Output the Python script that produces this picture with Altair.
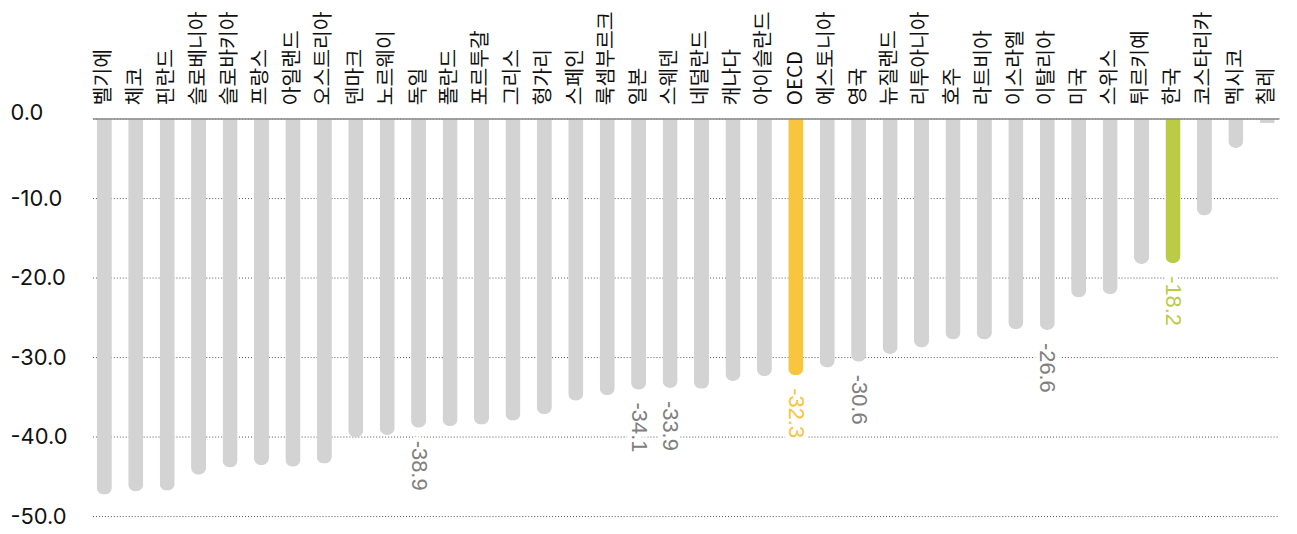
import altair as alt
import pandas as pd

countries = ["벨기에", "체코", "핀란드", "슬로베니아", "슬로바키아", "프랑스", "아일랜드", "오스트리아",
             "덴마크", "노르웨이", "독일", "폴란드", "포르투갈", "그리스", "헝가리", "스페인",
             "룩셈부르크", "일본", "스웨덴", "네덜란드", "캐나다", "아이슬란드", "OECD", "에스토니아",
             "영국", "뉴질랜드", "리투아니아", "호주", "라트비아", "이스라엘", "이탈리아", "미국",
             "스위스", "튀르키예", "한국", "코스타리카", "멕시코", "칠레"]
values = [-47.3, -46.9, -46.8, -44.8, -43.9, -43.6, -43.8, -43.4,
          -40.1, -39.8, -38.9, -38.7, -38.5, -38.0, -37.2, -35.5,
          -34.8, -34.1, -33.9, -34.0, -33.0, -32.4, -32.3, -31.3,
          -30.6, -29.6, -28.8, -27.8, -27.8, -26.5, -26.6, -22.5,
          -22.1, -18.3, -18.2, -12.2, -3.7, -0.6]
labeled = ["독일", "일본", "스웨덴", "OECD", "영국", "이탈리아", "한국"]
y_ticks = [0, -10, -20, -30, -40, -50]

bar_colors = {"OECD": "#f9c43e", "한국": "#bccb45"}
text_colors = {"OECD": "#f9c43e", "한국": "#bccb45"}

df = pd.DataFrame({"country": countries, "value": values})
df["bcolor"] = [bar_colors.get(c, "#d3d3d3") for c in countries]
df["tcolor"] = [text_colors.get(c, "#808080") for c in countries]
df["label"] = [f"{v:.1f}" if c in labeled else "" for c, v in zip(countries, values)]

x_enc = alt.X(
    "country:N", sort=countries,
    scale=alt.Scale(paddingInner=0.52, paddingOuter=0.136),
    axis=alt.Axis(orient="top", title=None, labelAngle=-90, labelAlign="left",
                  labelBaseline="middle", labelFontSize=20.5,
                  labelFont="Noto Sans CJK KR", labelColor="#111111",
                  labelPadding=14, ticks=False, tickSize=0, domain=True,
                  domainColor="#8a8a8a", domainWidth=1.5, zindex=1, grid=False),
)
y_enc = alt.Y(
    "value:Q",
    scale=alt.Scale(domain=[-50, 0], nice=False),
    axis=alt.Axis(title=None, values=y_ticks,
                  labelExpr="replace(format(datum.value, '.1f'), '\u2212', '-')",
                  labelAlign="left", labelBaseline="middle", labelPadding=83,
                  ticks=False, tickSize=0, domain=False, grid=True,
                  gridDash=[1, 2], gridColor="#555555", gridWidth=1,
                  labelFontSize=22, labelFont="Inter", labelColor="#111111",
                  labelOffset={"condition": {"test": "datum.value === 0", "value": -6}, "value": 0},
                  zindex=0),
)

base = alt.Chart(df)
bars = base.mark_bar(cornerRadiusBottomLeft=7.5, cornerRadiusBottomRight=7.5).encode(
    x=x_enc, y=y_enc, color=alt.Color("bcolor:N", scale=None)
)
lab = base.transform_filter("datum.label != ''")
halo = lab.mark_text(angle=90, align="left", baseline="middle", dx=13, fontSize=22,
                     font="Liberation Sans", fill="white", stroke="white",
                     strokeWidth=10, strokeJoin="round").encode(
    x=alt.X("country:N", sort=countries), y="value:Q", text="label:N"
)
text = lab.mark_text(angle=90, align="left", baseline="middle", dx=13, fontSize=22,
                     font="Liberation Sans").encode(
    x=alt.X("country:N", sort=countries), y="value:Q", text="label:N",
    color=alt.Color("tcolor:N", scale=None)
)

chart = alt.layer(bars, halo, text).properties(
    width=1194, height=400,
    padding={"left": 85, "top": 109.6, "right": 10, "bottom": 16},
    autosize=alt.AutoSizeParams(type="none"),
).configure_view(stroke=None)

chart.save("out.html", embed_options={"renderer": "svg", "actions": False})
